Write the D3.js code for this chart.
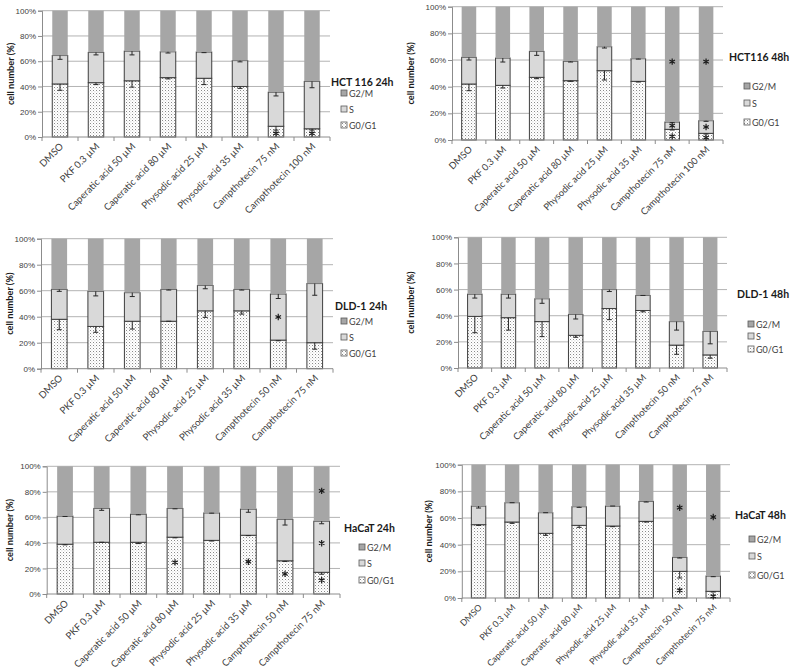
<!DOCTYPE html>
<html><head><meta charset="utf-8">
<script src="https://cdn.jsdelivr.net/npm/d3@7"></script>
<style>
body{margin:0;background:#fff;}
svg{display:block;font-family:Lato,"Liberation Sans",sans-serif;}
</style></head>
<body><svg id="c" width="791" height="669"></svg>
<script>
// ---------- DATA ----------
const catsHCT = ["DMSO","PKF 0.3 µM","Caperatic acid 50 µM","Caperatic acid 80 µM","Physodic acid 25 µM","Physodic acid 35 µM","Campthotecin 75 nM","Campthotecin 100 nM"];
const catsOther = ["DMSO","PKF 0.3 µM","Caperatic acid 50 µM","Caperatic acid 80 µM","Physodic acid 25 µM","Physodic acid 35 µM","Campthotecin 50 nM","Campthotecin 75 nM"];
const seriesNames = ["G2/M","S","G0/G1"];
const yTicks = [0,20,40,60,80,100];

// HCT 116 24h
const hct24_g0g1 = [42, 43, 44.5, 47, 46.5, 40, 8.5, 6.5];
const hct24_s    = [22.5, 24, 23.5, 20.5, 20.8, 20.5, 27, 37.5];
const hct24_g2m  = [35.5, 33, 32, 32.5, 32.7, 39.5, 64.5, 56];
const hct24_errG = [5, 1.5, 5, 1, 5, 1.5, 3, 1];
const hct24_errS = [3, 2, 3, 1, 0.5, 1, 3, 5];
const hct24_stars = [[6,2],[7,2]];

// HCT116 48h
const hct48_g0g1 = [42, 41, 47, 44.5, 52, 44, 8, 5];
const hct48_s    = [20, 20.5, 19.5, 14.5, 18, 17, 5.5, 9.5];
const hct48_g2m  = [38, 38.5, 33.5, 41, 30, 39, 86.5, 85.5];
const hct48_errG = [5, 2, 1, 0.5, 7, 0.5, 0.5, 0.5];
const hct48_errS = [2, 3, 3, 0.5, 1, 0.3, 0.5, 0.5];
const hct48_stars = [[6,2],[6,10],[6,58],[7,1],[7,9],[7,58]];

// DLD-1 24h
const dld24_g0g1 = [38, 32.5, 36.5, 36.5, 44.5, 44.5, 22, 20];
const dld24_s    = [23, 27, 22, 24.5, 19.5, 16.5, 35.5, 45.5];
const dld24_g2m  = [39, 40.5, 41.5, 39, 36, 39, 42.5, 34.5];
const dld24_errG = [8, 4.5, 6, 0, 5, 2.5, 0.5, 5];
const dld24_errS = [1.5, 3.5, 3, 0.5, 2.5, 0.5, 3.5, 9];
const dld24_stars = [[6,39]];

// DLD-1 48h
const dld48_g0g1 = [39.5, 38.5, 35.5, 25, 45.5, 44, 17.5, 10];
const dld48_s    = [17, 18, 17.5, 16, 14.5, 11.5, 18, 18];
const dld48_g2m  = [43.5, 43.5, 47, 59, 40, 44.5, 64.5, 72];
const dld48_errG = [12.5, 9.5, 11.5, 1.5, 8.5, 1, 7, 2.5];
const dld48_errS = [3, 3, 3.5, 3.5, 1.5, 0, 6.5, 9.5];
const dld48_stars = [];

// HaCaT 24h
const hac24_g0g1 = [39, 40.5, 40.5, 44.5, 42, 46, 26, 17];
const hac24_s    = [22, 26.5, 22, 22.5, 21.5, 20.5, 32.5, 40];
const hac24_g2m  = [39, 33, 37.5, 33, 36.5, 33.5, 41.5, 43];
const hac24_errG = [0.5, 0, 1, 0.5, 0.5, 0.3, 0.5, 1.5];
const hac24_errS = [0.3, 1.5, 0.5, 0.3, 0.2, 2.5, 4.5, 2];
const hac24_stars = [[3,24],[5,24.5],[6,15],[7,10],[7,39],[7,80]];

// HaCaT 48h
const hac48_g0g1 = [55, 57, 48.5, 54.5, 54, 57.5, 20, 5];
const hac48_s    = [14, 14.5, 15.5, 14, 15, 15, 10.5, 11.5];
const hac48_g2m  = [31, 28.5, 36, 31.5, 31, 27.5, 69.5, 83.5];
const hac48_errG = [0.5, 1, 1.5, 1.5, 0.5, 0.5, 5, 0.5];
const hac48_errS = [1.5, 0, 0, 0.5, 0, 0.5, 0.5, 0.5];
const hac48_stars = [[6,5],[6,67],[7,0.5],[7,60]];

// ---------- LAYOUT ----------
const panels = [
  {title:"HCT 116 24h", cats:catsHCT, g:hct24_g0g1, s:hct24_s, m:hct24_g2m, eg:hct24_errG, es:hct24_errS, stars:hct24_stars,
   x0:42, x1:330, yt:10.7, yb:137, lx:331, ly:82, ix:341, iy:[93,109,125], ylx:10, fs:9.6},
  {title:"HCT116 48h", cats:catsHCT, g:hct48_g0g1, s:hct48_s, m:hct48_g2m, eg:hct48_errG, es:hct48_errS, stars:hct48_stars,
   x0:452, x1:723, yt:6.7, yb:140, lx:729, ly:57, ix:744, iy:[86,103,122], ylx:410, fs:9.4},
  {title:"DLD-1 24h", cats:catsOther, g:dld24_g0g1, s:dld24_s, m:dld24_g2m, eg:dld24_errG, es:dld24_errS, stars:dld24_stars,
   x0:41, x1:333, yt:238.7, yb:368.7, lx:335, ly:306, ix:341, iy:[321,337,353], ylx:9, fs:9.6},
  {title:"DLD-1 48h", cats:catsOther, g:dld48_g0g1, s:dld48_s, m:dld48_g2m, eg:dld48_errG, es:dld48_errS, stars:dld48_stars,
   x0:458, x1:727, yt:237.3, yb:368, lx:737, ly:294, ix:748, iy:[324,336,349], ylx:410, fs:9.4},
  {title:"HaCaT 24h", cats:catsOther, g:hac24_g0g1, s:hac24_s, m:hac24_g2m, eg:hac24_errG, es:hac24_errS, stars:hac24_stars,
   x0:46.7, x1:340, yt:466.3, yb:594, lx:344, ly:528, ix:359, iy:[547,563,580], ylx:9, fs:9.6},
  {title:"HaCaT 48h", cats:catsOther, g:hac48_g0g1, s:hac48_s, m:hac48_g2m, eg:hac48_errG, es:hac48_errS, stars:hac48_stars,
   x0:461.8, x1:730, yt:464.7, yb:598, lx:735, ly:515, ix:749, iy:[539,556,575], ylx:428, fs:8.8}
];

const colG2M = "#a6a6a6", colS = "#d9d9d9", edge = "#3f3f3f", grid = "#b3b3b3", axisCol = "#8c8c8c", txt = "#404040";

const svg = d3.select("#c");
const defs = svg.append("defs");
const pat = defs.append("pattern").attr("id","dots").attr("patternUnits","userSpaceOnUse")
  .attr("width",3).attr("height",3);
pat.append("rect").attr("width",3).attr("height",3).attr("fill","#fff");
pat.append("rect").attr("x",0).attr("y",0).attr("width",1).attr("height",1).attr("fill","#8a8a8a");
pat.append("rect").attr("x",1.5).attr("y",1.5).attr("width",0.8).attr("height",0.8).attr("fill","#b0b0b0");

const fills = {g0g1:"url(#dots)", s:colS, g2m:colG2M};
const starPath = d3.symbol(d3.symbolAsterisk, 28)();

panels.forEach(p => {
  const G = svg.append("g");
  const x = d3.scaleBand().domain(p.cats).range([p.x0,p.x1]).paddingInner(0.57).paddingOuter(0.285);
  const y = d3.scaleLinear().domain([0,100]).range([p.yb,p.yt]);

  // gridlines
  G.append("g").selectAll("line").data(yTicks.filter(d=>d>0)).join("line")
    .attr("x1",p.x0).attr("x2",p.x1).attr("y1",d=>y(d)).attr("y2",d=>y(d))
    .attr("stroke",grid).attr("stroke-width",1);

  // y axis
  const ya = G.append("g").attr("transform",`translate(${p.x0},0)`)
    .call(d3.axisLeft(y).tickValues(yTicks).tickSize(4).tickFormat(d=>d+"%"));
  ya.select(".domain").attr("stroke",axisCol);
  ya.selectAll(".tick line").attr("stroke",axisCol);
  ya.selectAll(".tick text").attr("fill",txt).style("font-size","8px").attr("x",-6);

  // stacked bars
  const rows = p.cats.map((c,i)=>({cat:c, g0g1:p.g[i], s:p.s[i], g2m:p.m[i]}));
  const stack = d3.stack().keys(["g0g1","s","g2m"])(rows);
  stack.forEach(layer => {
    G.append("g").selectAll("rect").data(layer).join("rect")
      .attr("x",d=>x(d.data.cat)).attr("width",x.bandwidth())
      .attr("y",d=>y(d[1])).attr("height",d=>y(d[0])-y(d[1]))
      .attr("fill",fills[layer.key])
      .attr("stroke",layer.key==="g2m"?"none":edge).attr("stroke-width",1);
  });

  // x axis
  G.append("line").attr("x1",p.x0).attr("x2",p.x1).attr("y1",p.yb).attr("y2",p.yb).attr("stroke",axisCol);
  const step = x.step();
  G.append("g").selectAll("line").data(d3.range(p.cats.length+1)).join("line")
    .attr("x1",i=>p.x0+i*step).attr("x2",i=>p.x0+i*step).attr("y1",p.yb).attr("y2",p.yb+4)
    .attr("stroke",axisCol);
  G.append("g").selectAll("text").data(p.cats).join("text")
    .attr("transform",d=>`translate(${x(d)+x.bandwidth()/2+4},${p.yb+10}) rotate(-45)`)
    .attr("text-anchor","end").attr("fill",txt).style("font-size",p.fs+"px").text(d=>d);

  // error bars (minus direction)
  const errs = [];
  p.cats.forEach((c,i)=>{
    errs.push({c, top:p.g[i], e:p.eg[i]});
    errs.push({c, top:p.g[i]+p.s[i], e:p.es[i]});
  });
  const eg = G.append("g").attr("stroke","#262626").attr("stroke-width",1);
  errs.forEach(d=>{
    const cx = x(d.c)+x.bandwidth()/2;
    eg.append("line").attr("x1",cx).attr("x2",cx).attr("y1",y(d.top)).attr("y2",y(d.top-d.e));
    eg.append("line").attr("x1",cx-2.5).attr("x2",cx+2.5).attr("y1",y(d.top-d.e)).attr("y2",y(d.top-d.e));
  });

  // asterisks (significance marks)
  G.append("g").selectAll("path").data(p.stars).join("path")
    .attr("d",starPath)
    .attr("transform",d=>`translate(${x(p.cats[d[0]])+x.bandwidth()/2},${y(d[1])-1})`)
    .attr("fill","none").attr("stroke","#1a1a1a").attr("stroke-width",1.2);

  // y label
  G.append("text").attr("transform",`translate(${p.ylx+4},${(p.yt+p.yb)/2}) rotate(-90)`)
    .attr("text-anchor","middle").style("font-size","9.2px").style("font-weight","bold").attr("fill","#1a1a1a")
    .text("cell number (%)");

  // legend
  G.append("text").attr("x",p.lx).attr("y",p.ly+4).style("font-size","10.5px").style("font-weight","bold")
    .attr("fill","#1a1a1a").text(p.title);
  const lf = [colG2M, colS, "url(#dots)"];
  seriesNames.forEach((n,i)=>{
    G.append("rect").attr("x",p.ix).attr("y",p.iy[i]-3).attr("width",6).attr("height",6)
      .attr("fill",lf[i]).attr("stroke","#595959").attr("stroke-width",0.8);
    G.append("text").attr("x",p.ix+8).attr("y",p.iy[i]+3.5).style("font-size","9px").attr("fill",txt).text(n);
  });
});
</script></body></html>
